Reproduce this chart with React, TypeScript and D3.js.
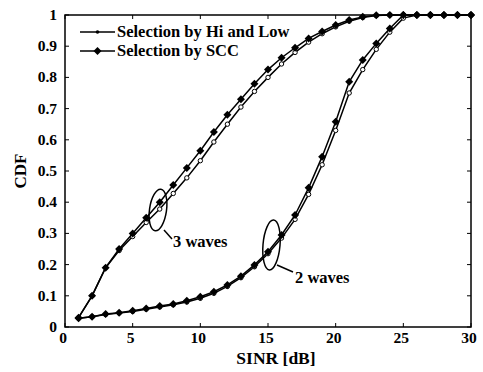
import React from "react";
import * as d3 from "d3";

// SINR (dB) sample points
const sinr = [1, 2, 3, 4, 5, 6, 7, 8, 9, 10, 11, 12, 13, 14, 15, 16, 17, 18, 19, 20, 21, 22, 23, 24, 25, 26, 27, 28, 29, 30];

// 3 waves
const scc3 = [0.03, 0.1, 0.19, 0.25, 0.3, 0.35, 0.4, 0.455, 0.51, 0.565, 0.625, 0.68, 0.73, 0.78, 0.825, 0.863, 0.895, 0.925, 0.947, 0.968, 0.984, 0.994, 0.999, 1, 1, 1, 1, 1, 1, 1];
const hiLow3 = [0.03, 0.1, 0.19, 0.245, 0.29, 0.335, 0.378, 0.428, 0.478, 0.533, 0.593, 0.65, 0.705, 0.755, 0.8, 0.843, 0.88, 0.913, 0.94, 0.962, 0.98, 0.992, 0.998, 1, 1, 1, 1, 1, 1, 1];

// 2 waves
const scc2 = [0.028, 0.033, 0.042, 0.046, 0.052, 0.059, 0.067, 0.074, 0.084, 0.097, 0.113, 0.135, 0.163, 0.199, 0.241, 0.295, 0.359, 0.446, 0.546, 0.658, 0.786, 0.856, 0.909, 0.957, 1, 1, 1, 1, 1, 1];
const hiLow2 = [0.028, 0.033, 0.04, 0.045, 0.05, 0.057, 0.064, 0.071, 0.08, 0.092, 0.108, 0.13, 0.158, 0.193, 0.235, 0.285, 0.345, 0.425, 0.52, 0.63, 0.75, 0.825, 0.89, 0.945, 0.99, 1, 1, 1, 1, 1];

const xTicks = [0, 5, 10, 15, 20, 25, 30];
const yTicks = [0, 0.1, 0.2, 0.3, 0.4, 0.5, 0.6, 0.7, 0.8, 0.9, 1];
const legendLabels = ["Selection by Hi and Low", "Selection by SCC"];

const W = 483;
const H = 372;
const m = { left: 65, right: 12, top: 15, bottom: 45 };
const font = "'Liberation Serif', 'DejaVu Serif', serif";

const x = d3.scaleLinear().domain([0, 30]).range([m.left, W - m.right]);
const y = d3.scaleLinear().domain([0, 1]).range([H - m.bottom, m.top]);

const line = d3
  .line<number>()
  .x((_, i) => x(sinr[i]))
  .y((d) => y(d));

const diamond = (cx: number, cy: number, r: number) =>
  `M${cx},${cy - r}L${cx + r},${cy}L${cx},${cy + r}L${cx - r},${cy}Z`;

const Series = ({ values, kind }: { values: number[]; kind: "hl" | "scc" }) => (
  <g>
    <path d={line(values) || ""} fill="none" stroke="#000" strokeWidth={1.5} />
    {values.map((v, i) =>
      kind === "scc" ? (
        <path key={i} d={diamond(x(sinr[i]), y(v), 4)} fill="#000" />
      ) : (
        <circle key={i} cx={x(sinr[i])} cy={y(v)} r={2.2} fill="#fff" stroke="#000" strokeWidth={1} />
      )
    )}
  </g>
);

export default function App() {
  const x0 = m.left;
  const x1 = W - m.right;
  const y0 = H - m.bottom;
  const y1 = m.top;
  const tl = 4;
  return (
    <svg width={W} height={H} style={{ position: "absolute", left: 0, top: 0, background: "#fff" }}>
      <rect x={0} y={0} width={W} height={H} fill="#fff" />
      <Series values={hiLow3} kind="hl" />
      <Series values={scc3} kind="scc" />
      <Series values={hiLow2} kind="hl" />
      <Series values={scc2} kind="scc" />

      {/* axes box */}
      <rect x={x0} y={y1} width={x1 - x0} height={y0 - y1} fill="none" stroke="#000" strokeWidth={1.5} />
      {xTicks.map((t) => (
        <g key={"x" + t}>
          <line x1={x(t)} x2={x(t)} y1={y0} y2={y0 - tl} stroke="#000" />
          <line x1={x(t)} x2={x(t)} y1={y1} y2={y1 + tl} stroke="#000" />
          <text x={x(t) - 2} y={y0 + 16} textAnchor="middle" fontFamily={font} fontWeight="bold" fontSize={15.5}>
            {t}
          </text>
        </g>
      ))}
      {yTicks.map((t) => (
        <g key={"y" + t}>
          <line x1={x0} x2={x0 + tl} y1={y(t)} y2={y(t)} stroke="#000" />
          <line x1={x1} x2={x1 - tl} y1={y(t)} y2={y(t)} stroke="#000" />
          <text x={x0 - 8} y={y(t) + 5} textAnchor="end" fontFamily={font} fontWeight="bold" fontSize={15.5}>
            {t}
          </text>
        </g>
      ))}
      <text x={(x0 + x1) / 2 + 8} y={H - 8} textAnchor="middle" fontFamily={font} fontWeight="bold" fontSize={17.5}>
        SINR [dB]
      </text>
      <text
        transform={`translate(26,${(y0 + y1) / 2}) rotate(-90)`}
        textAnchor="middle"
        fontFamily={font}
        fontWeight="bold"
        fontSize={17}
      >
        CDF
      </text>

      {/* legend */}
      {legendLabels.map((lab, i) => {
        const ly = 32 + i * 19;
        return (
          <g key={lab}>
            <line x1={80} x2={115} y1={ly} y2={ly} stroke="#000" strokeWidth={1.5} />
            {i === 0 ? (
              <circle cx={97.5} cy={ly} r={1.8} fill="#000" />
            ) : (
              <path d={diamond(97.5, ly, 4)} fill="#000" />
            )}
            <text x={117} y={ly + 5} fontFamily={font} fontWeight="bold" fontSize={16.5}>
              {lab}
            </text>
          </g>
        );
      })}

      {/* annotations */}
      <ellipse cx={158} cy={210} rx={8.5} ry={21} fill="none" stroke="#000" strokeWidth={1.5} transform="rotate(8,158,210)" />
      <line x1={164} y1={230} x2={172} y2={239} stroke="#000" strokeWidth={1.5} />
      <text x={173} y={247} fontFamily={font} fontWeight="bold" fontSize={16.5}>
        3 waves
      </text>
      <ellipse cx={271.5} cy={245} rx={8.5} ry={25} fill="none" stroke="#000" strokeWidth={1.5} transform="rotate(5,271.5,245)" />
      <line x1={277} y1={265} x2={293} y2={272} stroke="#000" strokeWidth={1.5} />
      <text x={295} y={283} fontFamily={font} fontWeight="bold" fontSize={16.5}>
        2 waves
      </text>
    </svg>
  );
}
